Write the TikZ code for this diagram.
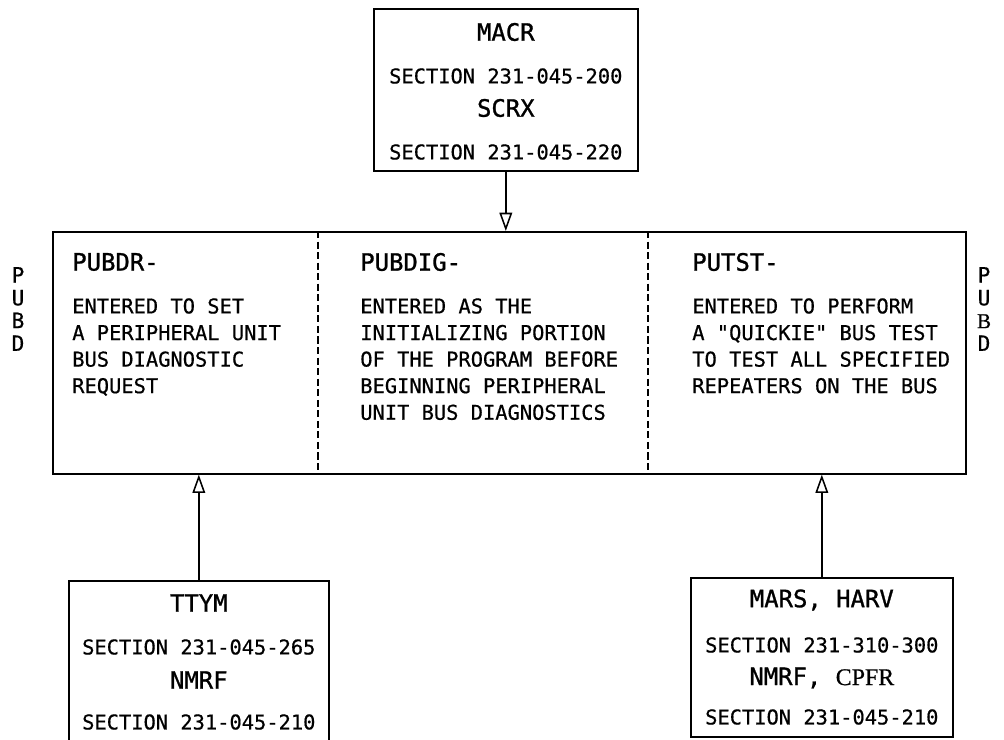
\documentclass[tikz,border=0pt]{standalone}
\usepackage{fontspec}
\setmonofont{DejaVu Sans Mono}
\newfontfamily\leroy[FakeBold=0.6]{DejaVu Sans Mono}
\newfontfamily\leroyhead[FakeBold=1.1]{DejaVu Sans Mono}
\newfontfamily\cpfrfont[FakeBold=0.6]{Liberation Serif}
\usepackage{tikz}
\usetikzlibrary{arrows.meta, positioning, calc}
\newcommand{\headfont}{\fontsize{17}{20}\selectfont\leroyhead}
\newcommand{\bodyfont}{\fontsize{14.5}{18.9}\selectfont\leroy}
\newcommand{\sidefont}{\fontsize{15}{16.2}\selectfont\leroy}

\begin{document}
\begin{tikzpicture}[x=0.025cm, y=-0.025cm,
	box/.style={draw, line width=1.1pt, inner sep=0pt, anchor=north west},
	conn/.style={line width=1.1pt, -{Triangle[open, length=13pt, width=9pt, line width=1.1pt]}},
	divider/.style={line width=0.9pt, dash pattern=on 5pt off 2.5pt},
	head/.style={font=\headfont, inner sep=0pt},
	sec/.style={font=\bodyfont, inner sep=0pt},
	body/.style={font=\bodyfont, inner sep=0pt, align=left, anchor=north west}]
	\useasboundingbox (0,0) rectangle (1004,739);
	% top box
	\node[box, minimum width=6.6cm, minimum height=4.05cm] (macr) at (373,8) {};
	\node[head] (macrname) at ($(macr.north)+(0,24)$) {MACR};
	\node[sec] (macrsec) at ($(macr.north)+(0,68)$) {SECTION 231-045-200};
	\node[head] (scrxname) at ($(macr.north)+(0,100)$) {SCRX};
	\node[sec] (scrxsec) at ($(macr.north)+(0,144)$) {SECTION 231-045-220};
	% main box
	\node[box, minimum width=22.825cm, minimum height=6.05cm] (pubd) at (52,231) {};
	\draw[divider] ($(pubd.north west)+(266,0)$) -- ($(pubd.south west)+(266,0)$);
	\draw[divider] ($(pubd.north west)+(596,0)$) -- ($(pubd.south west)+(596,0)$);
	\node[head, anchor=west] (pubdr) at (72,262) {PUBDR-};
	\node[body] (pubdrtext) at (72,298) {ENTERED TO SET\\A PERIPHERAL UNIT\\BUS DIAGNOSTIC\\REQUEST};
	\node[head, anchor=west] (pubdig) at (360,262) {PUBDIG-};
	\node[body] (pubdigtext) at (360,298) {ENTERED AS THE\\INITIALIZING PORTION\\OF THE PROGRAM BEFORE\\BEGINNING PERIPHERAL\\UNIT BUS DIAGNOSTICS};
	\node[head, anchor=west] (putst) at (692,262) {PUTST-};
	\node[body] (putsttext) at (692,298) {ENTERED TO PERFORM\\A "QUICKIE" BUS TEST\\TO TEST ALL SPECIFIED\\REPEATERS ON THE BUS};
	\node[font=\sidefont, align=center, inner sep=0pt] (leftside) at (18,309) {P\\U\\B\\D};
	\node[font=\sidefont, align=center, inner sep=0pt] (rightside) at (984,309) {P\\U\\{\cpfrfont B}\\D};
	% bottom boxes
	\node[box, minimum width=6.5cm, minimum height=4.4cm] (ttym) at (68,580) {};
	\node[head] (ttymname) at ($(ttym.north)+(0,23)$) {TTYM};
	\node[sec] (ttymsec) at ($(ttym.north)+(0,67)$) {SECTION 231-045-265};
	\node[head] (nmrfname) at ($(ttym.north)+(0,100)$) {NMRF};
	\node[sec] (nmrfsec) at ($(ttym.north)+(0,142)$) {SECTION 231-045-210};
	\node[box, minimum width=6.55cm, minimum height=3.975cm] (mars) at (690,577) {};
	\node[head] (marsname) at ($(mars.north)+(0,23)$) {MARS, HARV};
	\node[sec] (marssec) at ($(mars.north)+(0,68)$) {SECTION 231-310-300};
	\node[head] (cpfrname) at ($(mars.north)+(0,101)$) {NMRF, {\cpfrfont CPFR}};
	\node[sec] (cpfrsec) at ($(mars.north)+(0,140)$) {SECTION 231-045-210};
	% connectors
	\draw[conn] (macr.south) -- (macr.south |- pubd.north);
	\draw[conn] (ttym.north) -- (ttym.north |- pubd.south);
	\draw[conn] (mars.north) -- (mars.north |- pubd.south);
\end{tikzpicture}
\end{document}
